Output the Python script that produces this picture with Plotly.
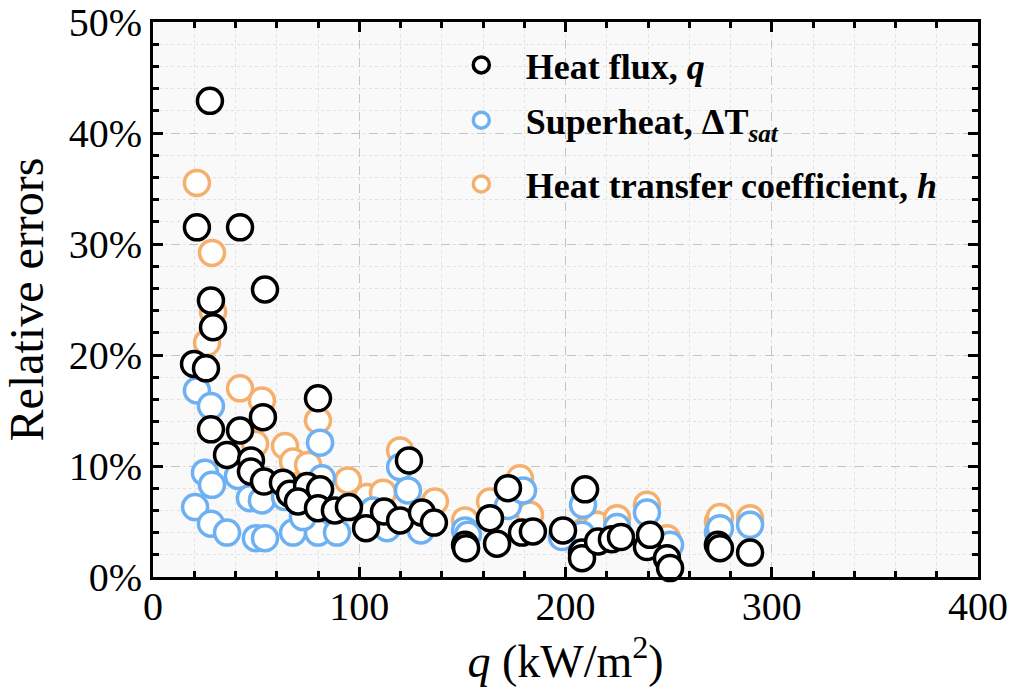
import plotly.graph_objects as go

# Heat flux q relative errors
q_x = [27.6, 21.3, 42.2, 28.1, 54.3, 29.1, 19.9, 25.7, 80.0, 53.3, 28.1, 42.2, 35.9, 124.1,
       47.5, 47.5, 53.8, 63.0, 66.4, 74.7, 81.0, 70.3, 80.0, 88.2, 95.0, 103.3, 112.0, 119.8,
       130.4, 136.2, 151.3, 151.8, 163.4, 166.8, 172.1, 178.9, 184.2, 198.8, 209.5, 208.0,
       208.0, 215.8, 222.5, 226.9, 239.5, 241.0, 249.2, 250.7, 273.9, 274.9, 289.5]
q_err = [42.9, 31.5, 31.5, 24.9, 25.9, 22.5, 19.2, 18.8, 16.1, 14.4, 13.3, 13.2, 11.0, 10.5,
         10.5, 9.5, 8.6, 8.5, 7.5, 8.2, 7.9, 6.8, 6.2, 6.0, 6.3, 4.4, 5.9, 5.1,
         5.8, 4.9, 2.9, 2.6, 5.3, 3.0, 8.0, 4.0, 4.1, 4.2, 7.9, 2.2,
         1.7, 3.2, 3.4, 3.6, 2.7, 3.8, 1.7, 0.8, 2.9, 2.6, 2.2]

# Superheat relative errors
dt_x = [21.3, 28.1, 81.0, 25.2, 28.6, 41.2, 20.4, 28.1, 35.9, 47.0, 52.8, 49.9, 54.3, 67.9,
        80.0, 89.2, 81.9, 106.7, 119.8, 123.6, 113.5, 129.9, 151.3, 172.1, 179.4, 208.5,
        208.0, 225.0, 239.5, 250.7, 273.9, 274.9, 289.5, 64.0, 72.7, 198.3, 152.7]
dt_err = [16.8, 15.4, 12.1, 9.4, 8.3, 9.1, 6.3, 4.8, 4.0, 7.1, 6.9, 3.5, 3.5, 4.0,
          4.0, 4.0, 8.9, 6.0, 9.9, 7.8, 4.4, 4.2, 4.2, 6.4, 7.8, 6.5,
          3.8, 4.5, 5.8, 2.9, 4.0, 4.4, 4.7, 7.2, 5.4, 3.6, 3.8]

# Heat transfer coefficient relative errors
h_x = [21.3, 28.6, 29.1, 26.2, 42.2, 52.8, 80.0, 64.0, 49.5, 119.8, 94.5, 177.9, 67.9, 75.2,
       103.8, 111.5, 136.7, 151.3, 163.4, 182.8, 209.5, 215.3, 225.0, 239.5, 249.2, 273.9,
       289.5, 274.9]
h_err = [35.5, 29.2, 23.9, 21.1, 17.0, 15.9, 14.1, 11.8, 12.0, 11.4, 8.7, 8.9, 10.4, 10.1,
         7.2, 7.6, 6.8, 5.1, 6.8, 5.6, 4.2, 4.7, 5.3, 6.5, 3.5, 5.0,
         5.3, 5.4]

x_ticks = [0, 100, 200, 300, 400]
x_tick_labels = ["0", "100", "200", "300", "400"]
y_ticks = [0, 10, 20, 30, 40, 50]
y_tick_labels = ["0%", "10%", "20%", "30%", "40%", "50%"]

FONT = "Liberation Serif"

fig = go.Figure()

series = [
    (h_x, h_err, "#f5b06e", "<b>Heat transfer coefficient, <i>h</i></b>", "legend3"),
    (dt_x, dt_err, "#6eb1f2", "<b>Superheat, ΔT</b><sub><i><b>sat</b></i></sub>", "legend2"),
    (q_x, q_err, "#000000", "<b>Heat flux, <i>q</i></b>", "legend"),
]
for xs, ys, col, name, leg in series:
    fig.add_trace(go.Scatter(
        x=xs, y=ys, mode="markers", name=name, legend=leg,
        cliponaxis=False,
        marker=dict(symbol="circle", size=25, color="white",
                    line=dict(color=col, width=3.5)),
    ))

axis_common = dict(
    showline=True, linecolor="black", linewidth=3, mirror="allticks",
    ticks="inside", ticklen=10, tickwidth=3, tickcolor="black",
    showgrid=True, gridcolor="#c4c4c4", griddash="dash", gridwidth=1,
    zeroline=False, automargin=False,
    tickfont=dict(family=FONT, size=40, color="black"),
)

fig.update_xaxes(
    range=[0, 400], tickvals=x_ticks, ticktext=x_tick_labels, ticklabelstandoff=-8,
    minor=dict(dtick=20, ticks="inside", ticklen=6, tickwidth=2.5, tickcolor="black",
               showgrid=True, gridcolor="#e2e2e2", griddash="dot", gridwidth=1),
    title=dict(text="<i>q</i> (kW/m<sup>2</sup>)", font=dict(family=FONT, size=46, color="black"),
               standoff=14),
    **axis_common,
)
fig.update_yaxes(
    range=[0, 50], tickvals=y_ticks, ticktext=y_tick_labels,
    minor=dict(dtick=2, ticks="inside", ticklen=6, tickwidth=2.5, tickcolor="black",
               showgrid=True, gridcolor="#e2e2e2", griddash="dot", gridwidth=1),
    title=dict(text="Relative errors", font=dict(family=FONT, size=48, color="black"),
               standoff=24),
    **axis_common,
)

legend_common = dict(xanchor="left", yanchor="middle", x=0.344,
                     bgcolor="rgba(0,0,0,0)", borderwidth=0, itemwidth=79,
                     font=dict(family=FONT, size=36, color="black"))

fig.update_layout(
    width=1011, height=687,
    margin=dict(l=153, r=33, t=22, b=110),
    paper_bgcolor="white", plot_bgcolor="#f9f9f9",
    font=dict(family=FONT, color="black"),
    legend=dict(y=0.9225, **legend_common),
    legend2=dict(y=0.823, **legend_common),
    legend3=dict(y=0.708, **legend_common),
    showlegend=True,
)

fig.write_html("out.html",
               config={"displayModeBar": False},
               post_script="document.body.style.margin='0';document.body.style.padding='0';")
